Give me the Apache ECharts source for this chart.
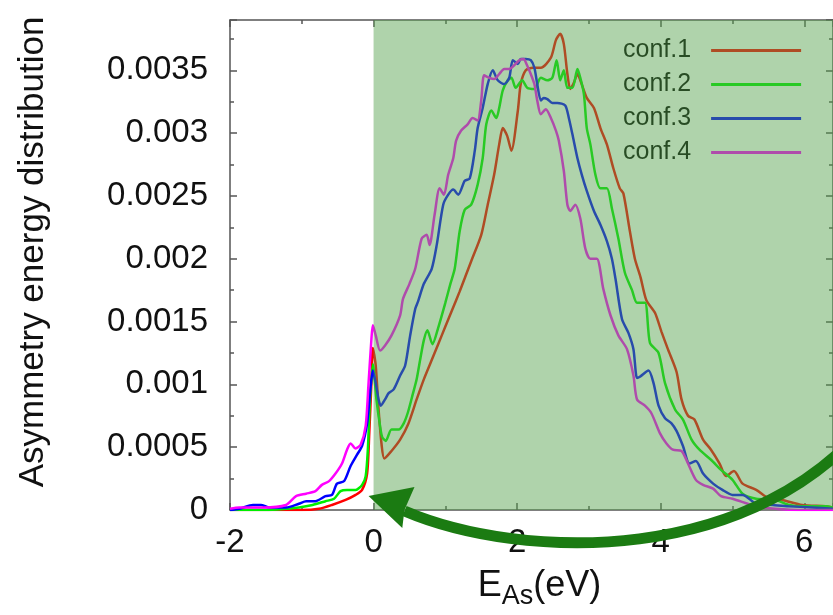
<!DOCTYPE html>
<html>
<head>
<meta charset="utf-8">
<script src="https://cdn.jsdelivr.net/npm/echarts@6/dist/echarts.min.js"></script>
<style>html,body{margin:0;padding:0;background:#fff}#c{width:833px;height:615px}</style>
</head>
<body>
<div id="c"></div>
<script>
const seriesNames = ['conf.1', 'conf.2', 'conf.3', 'conf.4'];
const seriesColors = ['#ff0000', '#00ee00', '#0000ff', '#ff00ff'];

const conf1 = [[-2,0],[-1.5,0],[-1.0,0],[-0.76,0.00001],[-0.58,0.00004],[-0.39,0.00008],[-0.25,0.00012],[-0.16,0.00016],[-0.09,0.00029],[-0.06,0.00061],[-0.03,0.00101],[-0.01,0.00129],[0.03,0.00115],[0.07,0.0008],[0.11,0.00053],[0.15,0.00041],[0.25,0.00047],[0.37,0.00056],[0.48,0.00068],[0.6,0.00088],[0.7,0.00104],[0.8,0.00118],[0.9,0.00132],[1.0,0.00146],[1.1,0.0016],[1.2,0.00174],[1.28,0.00186],[1.36,0.00198],[1.5,0.00219],[1.59,0.00243],[1.68,0.00267],[1.75,0.00291],[1.8,0.00304],[1.86,0.00298],[1.92,0.00286],[2.01,0.00318],[2.05,0.00339],[2.12,0.0035],[2.22,0.00352],[2.33,0.00352],[2.47,0.0036],[2.54,0.00374],[2.6,0.00379],[2.65,0.00371],[2.7,0.00347],[2.74,0.00335],[2.79,0.0034],[2.84,0.00347],[2.88,0.00342],[2.97,0.00328],[3.07,0.0032],[3.16,0.00304],[3.25,0.00291],[3.34,0.00272],[3.43,0.00256],[3.48,0.00252],[3.57,0.00222],[3.64,0.002],[3.72,0.00185],[3.8,0.00167],[3.92,0.00157],[4.01,0.00142],[4.1,0.00128],[4.22,0.0011],[4.29,0.00088],[4.38,0.00075],[4.47,0.00072],[4.59,0.00056],[4.7,0.00048],[4.82,0.00037],[4.91,0.00027],[5.02,0.00031],[5.14,0.00021],[5.33,0.00016],[5.51,0.00009],[5.69,0.00008],[5.97,0.00004],[6.3,0.00003],[6.4,0.00002]];

const conf2 = [[-2,0],[-1.5,0],[-1.22,0.00001],[-1.04,0.00002],[-0.85,0.00004],[-0.67,0.00007],[-0.55,0.00009],[-0.46,0.00015],[-0.37,0.00016],[-0.25,0.00016],[-0.16,0.0002],[-0.11,0.00027],[-0.08,0.00048],[-0.05,0.00088],[-0.01,0.00116],[0.04,0.00088],[0.09,0.00067],[0.12,0.00058],[0.17,0.00055],[0.25,0.00064],[0.35,0.00064],[0.42,0.00069],[0.48,0.00078],[0.55,0.00093],[0.6,0.00104],[0.65,0.0012],[0.7,0.00135],[0.75,0.00143],[0.82,0.00132],[0.9,0.00145],[1.0,0.00165],[1.07,0.0018],[1.13,0.00192],[1.2,0.00222],[1.27,0.00239],[1.36,0.00243],[1.45,0.00259],[1.52,0.0028],[1.57,0.00307],[1.64,0.00318],[1.71,0.00312],[1.75,0.0032],[1.8,0.00334],[1.87,0.00342],[1.92,0.00344],[1.98,0.00336],[2.07,0.00342],[2.14,0.00336],[2.24,0.00335],[2.33,0.00344],[2.42,0.00342],[2.49,0.00344],[2.55,0.00358],[2.6,0.00342],[2.65,0.0035],[2.7,0.00336],[2.77,0.00336],[2.84,0.00351],[2.88,0.00344],[2.93,0.00331],[2.97,0.00304],[3.02,0.00291],[3.09,0.00267],[3.16,0.00256],[3.25,0.00256],[3.32,0.0024],[3.41,0.00216],[3.5,0.00189],[3.6,0.00175],[3.67,0.00165],[3.78,0.00165],[3.85,0.00133],[3.97,0.00125],[4.06,0.00101],[4.2,0.0008],[4.31,0.00072],[4.43,0.00056],[4.54,0.00048],[4.7,0.0004],[4.84,0.00032],[5.0,0.00024],[5.14,0.00013],[5.33,0.00009],[5.6,0.00008],[5.79,0.00004],[5.97,0.00003],[6.3,0.00003],[6.4,0.00002]];

const conf3 = [[-2,0],[-1.87,0.00001],[-1.68,0.00004],[-1.57,0.00004],[-1.45,0.00002],[-1.22,0.00002],[-1.04,0.00005],[-0.94,0.00007],[-0.81,0.00007],[-0.67,0.00011],[-0.58,0.00012],[-0.51,0.00021],[-0.41,0.00023],[-0.32,0.00035],[-0.23,0.00044],[-0.16,0.00051],[-0.09,0.00069],[-0.05,0.00093],[-0.01,0.00111],[0.03,0.00101],[0.07,0.00088],[0.1,0.00083],[0.16,0.00088],[0.21,0.00093],[0.28,0.00096],[0.37,0.00107],[0.44,0.00115],[0.51,0.00139],[0.58,0.0016],[0.62,0.00166],[0.7,0.0018],[0.81,0.00192],[0.88,0.00211],[0.97,0.00243],[1.04,0.00251],[1.11,0.00255],[1.18,0.00251],[1.27,0.00262],[1.34,0.00264],[1.41,0.00286],[1.45,0.00304],[1.52,0.0032],[1.59,0.00339],[1.66,0.0035],[1.73,0.00342],[1.82,0.00339],[1.89,0.00344],[1.94,0.00358],[2.01,0.00355],[2.05,0.00359],[2.12,0.00359],[2.19,0.00358],[2.24,0.00352],[2.28,0.00339],[2.33,0.00326],[2.37,0.00328],[2.42,0.00327],[2.49,0.00324],[2.56,0.00324],[2.67,0.00322],[2.72,0.00312],[2.77,0.00299],[2.84,0.0028],[2.9,0.00267],[2.97,0.00254],[3.07,0.00238],[3.16,0.00227],[3.25,0.00214],[3.32,0.002],[3.37,0.00184],[3.46,0.00152],[3.55,0.00141],[3.62,0.00128],[3.67,0.00105],[3.71,0.00106],[3.83,0.00111],[3.9,0.00101],[3.97,0.00083],[4.06,0.00073],[4.15,0.00069],[4.22,0.00063],[4.31,0.00051],[4.4,0.00037],[4.49,0.00039],[4.59,0.00029],[4.73,0.00021],[4.86,0.00016],[5.0,0.00012],[5.14,0.00012],[5.33,0.00005],[5.56,0.00004],[5.78,0.00003],[6.11,0.00002],[6.4,0.00001]];

const conf4 = [[-2,0.00001],[-1.87,0.00002],[-1.54,0.00002],[-1.22,0.00004],[-1.08,0.00011],[-0.94,0.00013],[-0.81,0.00015],[-0.72,0.0002],[-0.62,0.00023],[-0.53,0.00029],[-0.44,0.00037],[-0.37,0.00048],[-0.32,0.00053],[-0.25,0.00049],[-0.18,0.00052],[-0.11,0.00067],[-0.07,0.00101],[-0.03,0.00136],[-0.01,0.00147],[0.03,0.00139],[0.09,0.00127],[0.16,0.00131],[0.25,0.00139],[0.37,0.00155],[0.41,0.00168],[0.5,0.0018],[0.58,0.00192],[0.67,0.00216],[0.74,0.00219],[0.78,0.00211],[0.85,0.00235],[0.92,0.00256],[0.98,0.00251],[1.04,0.00267],[1.11,0.0028],[1.15,0.00294],[1.22,0.00302],[1.31,0.00307],[1.38,0.00312],[1.45,0.0031],[1.5,0.00326],[1.54,0.00346],[1.61,0.00344],[1.68,0.00343],[1.75,0.00347],[1.82,0.00351],[1.89,0.00351],[1.96,0.00354],[2.03,0.00358],[2.09,0.00359],[2.13,0.00355],[2.19,0.00347],[2.24,0.00339],[2.28,0.00326],[2.33,0.00315],[2.4,0.00319],[2.47,0.00312],[2.54,0.00302],[2.58,0.00294],[2.65,0.0027],[2.7,0.00243],[2.74,0.00238],[2.81,0.00243],[2.88,0.00232],[2.95,0.00208],[3.02,0.002],[3.11,0.002],[3.2,0.00176],[3.3,0.00155],[3.41,0.00139],[3.53,0.00128],[3.62,0.00107],[3.67,0.00088],[3.78,0.00083],[3.87,0.00077],[3.99,0.00061],[4.08,0.00053],[4.17,0.00048],[4.29,0.00047],[4.38,0.00037],[4.49,0.00024],[4.59,0.0002],[4.73,0.00017],[4.84,0.00011],[5.0,0.00009],[5.33,0.00003],[5.6,0.00001],[6.0,0],[6.4,0]];

// annotation arrow, in data coordinates: cubic curve (start, control 1, control 2, end) and head polygon
const arrowCurve = [[7.025, 0.000796], [5.36, -0.000478], [2.03, -0.000398], [0.43, -0.000008]];
const arrowHeadPts = [[-0.07, 0.000111], [0.57, 0.000183], [0.43, 0], [0.40, -0.000143]];

const shadedRange = [0, 6.4];
const xRange = [-2, 6.4];
const yRange = [0, 0.0039];

const FONT = 'Liberation Sans, Arial, Helvetica, sans-serif';
const axisColor = '#555';
const lineSt = { color: axisColor, width: 1.5 };
const arrowColor = '#1b7b12';

const chart = echarts.init(document.getElementById('c'), null, { renderer: 'canvas' });

const dataSets = [conf1, conf2, conf3, conf4];
const series = dataSets.map((d, i) => ({
  name: seriesNames[i],
  type: 'line',
  data: d,
  showSymbol: false,
  symbol: 'none',
  smooth: 0.25,
  z: 2,
  lineStyle: { color: seriesColors[i], width: 2.5 },
  itemStyle: { color: seriesColors[i] }
}));

series.push({
  name: 'shade',
  type: 'line',
  data: [],
  z: 10,
  silent: true,
  markArea: {
    silent: true,
    z: 10,
    itemStyle: { color: 'rgba(85,162,77,0.47)' },
    data: [[{ xAxis: shadedRange[0] }, { xAxis: shadedRange[1] }]]
  }
});

series.push({
  name: 'arrow',
  type: 'custom',
  data: [[0, 0]],
  clip: false,
  silent: true,
  z: 20,
  renderItem: function (params, api) {
    const p = arrowCurve.map(c => api.coord(c));
    const h = arrowHeadPts.map(c => api.coord(c));
    return {
      type: 'group',
      children: [{
        type: 'bezierCurve',
        shape: { x1: p[0][0], y1: p[0][1], cpx1: p[1][0], cpy1: p[1][1], cpx2: p[2][0], cpy2: p[2][1], x2: p[3][0], y2: p[3][1] },
        style: { stroke: arrowColor, lineWidth: 11, fill: null }
      }, {
        type: 'polygon',
        shape: { points: h },
        style: { fill: arrowColor }
      }]
    };
  }
});

const option = {
  animation: false,
  backgroundColor: '#ffffff',
  grid: { left: 230, top: 20, width: 605, height: 490 },
  legend: {
    data: seriesNames,
    orient: 'vertical',
    left: 618,
    top: 33,
    z: 1,
    align: 'right',
    icon: 'rect',
    itemWidth: 90,
    itemHeight: 3,
    itemGap: 9,
    textStyle: { fontSize: 25, color: '#000', fontFamily: FONT, lineHeight: 25, padding: [0, 15, 0, 0] }
  },
  xAxis: [{
    type: 'value',
    position: 'bottom',
    min: xRange[0], max: xRange[1], interval: 2,
    axisLine: { show: true, onZero: false, lineStyle: lineSt },
    axisTick: { show: true, inside: true, length: 7, lineStyle: lineSt },
    minorTick: { show: true, splitNumber: 2, length: 4, lineStyle: lineSt },
    splitLine: { show: false },
    axisLabel: { fontSize: 33, color: '#111', fontFamily: FONT, margin: 16, showMaxLabel: false },
    name: '{n|E}{s|As}{n|(eV)}',
    nameLocation: 'middle',
    nameGap: 52,
    nameTextStyle: {
      padding: [0, 0, 0, 16],
      rich: {
        n: { fontSize: 36, lineHeight: 48, color: '#111', fontFamily: FONT },
        s: { fontSize: 27, lineHeight: 27, verticalAlign: 'bottom', color: '#111', fontFamily: FONT }
      }
    }
  }, {
    type: 'value',
    position: 'top',
    min: xRange[0], max: xRange[1], interval: 2,
    axisLine: { show: true, onZero: false, lineStyle: lineSt },
    axisTick: { show: true, inside: true, length: 7, lineStyle: lineSt },
    minorTick: { show: true, splitNumber: 2, length: 4, lineStyle: lineSt },
    splitLine: { show: false },
    axisLabel: { show: false }
  }],
  yAxis: [{
    type: 'value',
    position: 'left',
    min: yRange[0], max: yRange[1], interval: 0.0005,
    axisLine: { show: true, onZero: false, lineStyle: lineSt },
    axisTick: { show: true, inside: true, length: 7, lineStyle: lineSt },
    minorTick: { show: true, splitNumber: 2, length: 4, lineStyle: lineSt },
    splitLine: { show: false },
    axisLabel: { fontSize: 33, color: '#111', fontFamily: FONT, margin: 22, showMaxLabel: false },
    name: 'Asymmetry energy distribution',
    nameLocation: 'middle',
    nameGap: 179,
    nameTextStyle: { fontSize: 35, color: '#111', fontFamily: FONT, padding: [0, 0, 0, 26] }
  }, {
    type: 'value',
    position: 'right',
    min: yRange[0], max: yRange[1], interval: 0.0005,
    axisLine: { show: true, onZero: false, lineStyle: lineSt },
    axisTick: { show: true, inside: true, length: 7, lineStyle: lineSt },
    minorTick: { show: true, splitNumber: 2, length: 4, lineStyle: lineSt },
    splitLine: { show: false },
    axisLabel: { show: false }
  }],
  series: series
};

chart.setOption(option);
</script>
</body>
</html>
